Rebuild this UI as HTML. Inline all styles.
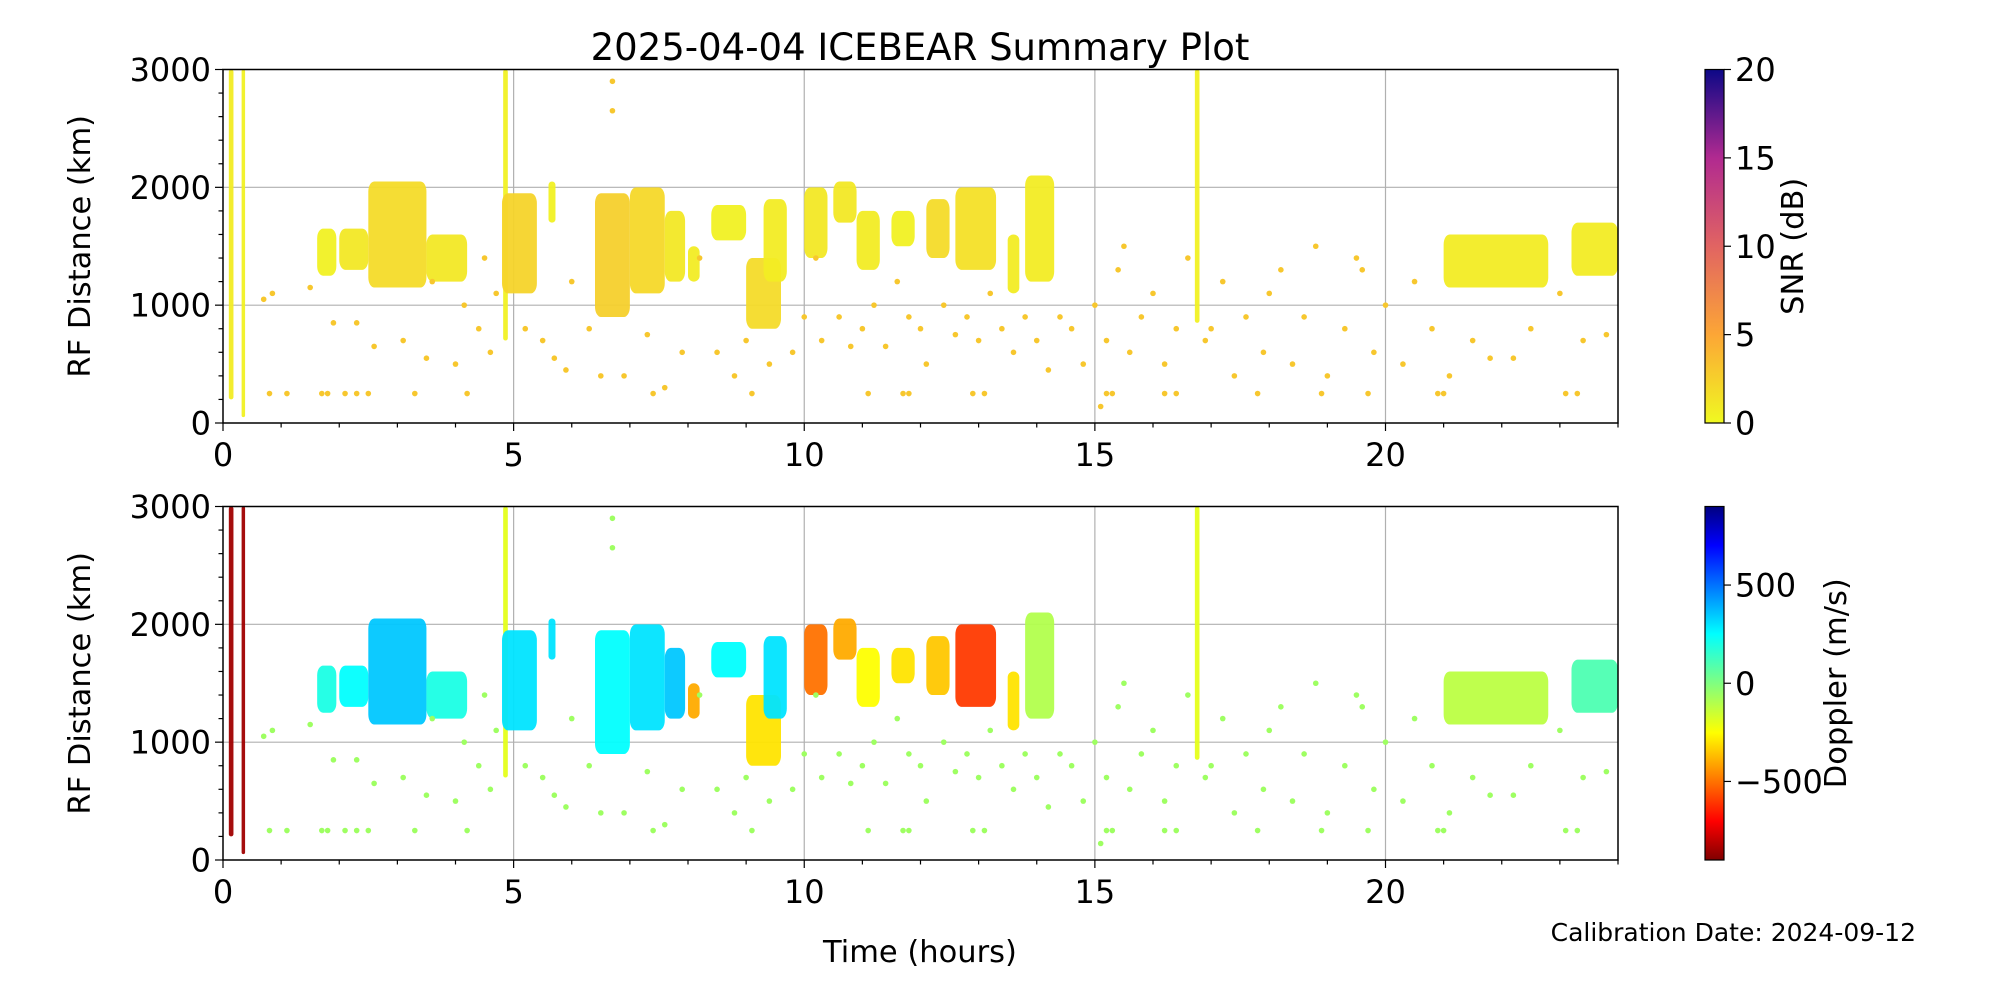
<!DOCTYPE html>
<html><head><meta charset="utf-8">
<style>
html,body{margin:0;padding:0;background:#fff;}
svg{display:block;font-family:"DejaVu Sans","Liberation Sans",sans-serif;}
</style></head>
<body>
<svg id="chart" width="2000" height="1000" viewBox="0 0 2000 1000" xmlns="http://www.w3.org/2000/svg">
<defs>
<linearGradient id="snrGrad" x1="0" y1="1" x2="0" y2="0">
<stop offset="0" stop-color="#f0f921"/><stop offset="0.25" stop-color="#fca636"/><stop offset="0.5" stop-color="#e16462"/><stop offset="0.75" stop-color="#b12a90"/><stop offset="1" stop-color="#0d0887"/>
</linearGradient>
<linearGradient id="dopGrad" x1="0" y1="1" x2="0" y2="0">
<stop offset="0" stop-color="#800000"/><stop offset="0.11" stop-color="#ff0000"/><stop offset="0.36" stop-color="#ffff00"/><stop offset="0.5" stop-color="#80ff80"/><stop offset="0.64" stop-color="#00ffff"/><stop offset="0.89" stop-color="#0000ff"/><stop offset="1" stop-color="#000080"/>
</linearGradient>
</defs>
<text x="920" y="60" font-size="37" text-anchor="middle">2025-04-04 ICEBEAR Summary Plot</text>
<g id="p1"></g>
<g id="p2"></g>
<g id="cb"></g>
<text x="920" y="962" font-size="30.5" text-anchor="middle">Time (hours)</text>
<text x="1916" y="941" font-size="25" text-anchor="end">Calibration Date: 2024-09-12</text>
</svg>
<script>
// clusters: start hour, end hour, min range, max range, snr, doppler
const clusterT0 = [0.1,0.32,4.82,16.72,1.62,2.0,2.5,3.5,4.8,5.6,6.4,7.0,7.6,8.0,8.4,9.0,9.3,10.0,10.5,10.9,11.5,12.1,12.6,13.5,13.8,21.0,23.2];
const clusterT1 = [0.18,0.38,4.9,16.8,1.95,2.5,3.5,4.2,5.4,5.72,7.0,7.6,7.95,8.2,9.0,9.6,9.7,10.4,10.9,11.3,11.9,12.5,13.3,13.7,14.3,22.8,24.0];
const clusterR0 = [200,50,700,850,1250,1300,1150,1200,1100,1700,900,1100,1200,1200,1550,800,1200,1400,1700,1300,1500,1400,1300,1100,1200,1150,1250];
const clusterR1 = [3000,3000,3000,3000,1650,1650,2050,1600,1950,2050,1950,2000,1800,1500,1850,1400,1900,2000,2050,1800,1800,1900,2000,1600,2100,1600,1700];
const clusterSnr = [0.8,0.5,0.5,0.5,0.5,1,1.8,1,2.2,0.5,2.5,2,1,0.8,0.5,1.8,0.8,1,1,0.8,0.5,1.8,1.5,0.8,0.8,0.8,0.8];
const clusterDop = [-850,-850,-200,-200,200,250,350,200,300,300,250,300,350,-400,250,-300,300,-500,-400,-250,-300,-350,-600,-300,-100,-120,100];
// scattered echoes: hour, range
const ptT = [0.7,0.85,1.5,1.9,2.3,2.6,3.1,3.5,3.6,4.0,4.15,4.4,4.5,4.6,4.7,5.2,5.5,5.7,5.9,6.0,6.3,6.5,6.9,7.3,7.6,7.9,8.2,8.5,8.8,9.0,9.4,9.8,10.0,10.2,10.3,10.6,10.8,11.0,11.2,11.4,11.6,11.8,12.0,12.1,12.4,12.6,12.8,13.0,13.2,13.4,13.6,13.8,14.0,14.2,14.4,14.6,14.8,15.0,15.2,15.4,15.6,15.8,16.0,16.2,16.4,16.6,16.9,17.2,17.4,17.6,17.9,18.2,18.4,18.6,18.8,19.0,19.3,19.6,19.8,20.0,20.3,20.5,20.8,21.1,21.5,21.8,22.2,22.5,23.0,23.4,23.8,15.5,17.0,18.0,19.5,0.8,1.1,1.7,1.8,2.1,2.3,2.5,3.3,4.2,7.4,9.1,11.1,11.7,11.8,12.9,13.1,15.2,15.3,16.2,16.4,17.8,18.9,19.7,20.9,21.0,23.1,23.3,6.7,6.7,15.1];
const ptR = [1050,1100,1150,850,850,650,700,550,1200,500,1000,800,1400,600,1100,800,700,550,450,1200,800,400,400,750,300,600,1400,600,400,700,500,600,900,1400,700,900,650,800,1000,650,1200,900,800,500,1000,750,900,700,1100,800,600,900,700,450,900,800,500,1000,700,1300,600,900,1100,500,800,1400,700,1200,400,900,600,1300,500,900,1500,400,800,1300,600,1000,500,1200,800,400,700,550,550,800,1100,700,750,1500,800,1100,1400,250,250,250,250,250,250,250,250,250,250,250,250,250,250,250,250,250,250,250,250,250,250,250,250,250,250,250,2900,2650,140];
const ptSnr = 3;
const ptDop = -60;
const yTicks = [0,1000,2000,3000];
const xTicks = [0,5,10,15,20];
const snrTicks = [0,5,10,15,20];
const dopTicks = [-500,0,500];

const NS='http://www.w3.org/2000/svg';
const L=223,R=1618;
const FS=32;
const panels=[{g:'p1',top:69.5,bot:423,kind:'snr'},{g:'p2',top:506.5,bot:860,kind:'dop'}];
function mk(tag,attrs,parent){const e=document.createElementNS(NS,tag);for(const k in attrs)e.setAttribute(k,attrs[k]);parent.appendChild(e);return e;}
function xs(t){return L+t/24*(R-L);}
function lerpC(stops,v){
  v=Math.max(0,Math.min(1,v));
  for(let i=1;i<stops.length;i++){if(v<=stops[i][0]){const a=stops[i-1],b=stops[i];const f=(v-a[0])/(b[0]-a[0]);
    const c=[0,1,2].map(j=>Math.round(a[1][j]+(b[1][j]-a[1][j])*f));return 'rgb('+c.join(',')+')';}}
  const s=stops[stops.length-1][1];return 'rgb('+s.join(',')+')';}
const plasmaR=[[0,[240,249,33]],[0.25,[252,166,54]],[0.5,[225,100,98]],[0.75,[177,42,144]],[1,[13,8,135]]];
const jetR=[[0,[128,0,0]],[0.11,[255,0,0]],[0.36,[255,255,0]],[0.5,[128,255,128]],[0.64,[0,255,255]],[0.89,[0,0,255]],[1,[0,0,128]]];
function colSnr(v){return lerpC(plasmaR,v/20);}
function colDop(v){return lerpC(jetR,(v+900)/1800);}

panels.forEach(p=>{
  const g=document.getElementById(p.g);
  const ys=r=>p.bot-r/3000*(p.bot-p.top);
  yTicks.forEach(v=>{if(v>0&&v<3000){const l=mk('line',{x1:L,x2:R,y1:ys(v),y2:ys(v),stroke:'#b0b0b0','stroke-width':1.2},g);
    }});
  xTicks.forEach(v=>{if(v>0){const l=mk('line',{x1:xs(v),x2:xs(v),y1:p.top,y2:p.bot,stroke:'#b0b0b0','stroke-width':1.2},g);
    }});
  for(let i=0;i<clusterT0.length;i++){
    const x0=xs(clusterT0[i]),x1=xs(clusterT1[i]),y0=ys(clusterR1[i]),y1=ys(clusterR0[i]);
    const c=p.kind==='snr'?colSnr(clusterSnr[i]):colDop(clusterDop[i]);
    const w=x1-x0;
    const r=mk('rect',{x:x0,y:y0,width:w,height:y1-y0,rx:Math.min(w/2,6),ry:Math.min(w/2,10),fill:c,opacity:0.95},g);
    
  }
  for(let i=0;i<ptT.length;i++){
    const c=p.kind==='snr'?colSnr(ptSnr):colDop(ptDop);
    const d=mk('circle',{cx:xs(ptT[i]),cy:ys(ptR[i]),r:2.8,fill:c},g);
    
  }
  const f=mk('rect',{x:L,y:p.top,width:R-L,height:p.bot-p.top,fill:'none',stroke:'#000','stroke-width':1.5},g);
  
  for(let v=0;v<=3000;v+=200){const major=v%1000===0;
    const t=mk('line',{x1:L,x2:L-(major?8:4.5),y1:ys(v),y2:ys(v),stroke:'#000','stroke-width':1.2},g);
    }
  yTicks.forEach(v=>{const t=mk('text',{x:L-12,y:ys(v)+11.5,'font-size':FS,'text-anchor':'end'},g);t.textContent=v;
    });
  for(let h=0;h<=24;h++){const major=h%5===0;
    const t=mk('line',{x1:xs(h),x2:xs(h),y1:p.bot,y2:p.bot+(major?8:4.5),stroke:'#000','stroke-width':1.2},g);
    }
  xTicks.forEach(v=>{const t=mk('text',{x:xs(v),y:p.bot+43,'font-size':FS,'text-anchor':'middle'},g);t.textContent=v;
    });
  const yl=mk('text',{x:0,y:0,'font-size':30.5,'text-anchor':'middle',transform:'translate(90,'+((p.top+p.bot)/2)+') rotate(-90)'},g);
  yl.textContent='RF Distance (km)';
});

const cb=document.getElementById('cb');
const CX=1705,CW=19;
[{top:69.5,bot:423,grad:'snrGrad',ticks:snrTicks,min:0,max:20,label:'SNR (dB)',lx:1803,name:'snr'},
 {top:506.5,bot:860,grad:'dopGrad',ticks:dopTicks,min:-900,max:900,label:'Doppler (m/s)',lx:1846,name:'doppler'}].forEach(c=>{
  const r=mk('rect',{x:CX,y:c.top,width:CW,height:c.bot-c.top,fill:'url(#'+c.grad+')',stroke:'#000','stroke-width':1.2},cb);
  
  c.ticks.forEach(v=>{const y=c.bot-(v-c.min)/(c.max-c.min)*(c.bot-c.top);
    const t=mk('line',{x1:CX+CW,x2:CX+CW+7,y1:y,y2:y,stroke:'#000','stroke-width':1.2},cb);
    
    const tx=mk('text',{x:CX+CW+11,y:y+11.5,'font-size':FS},cb);tx.textContent=v<0?'\u2212'+(-v):String(v);
    });
  const lb=mk('text',{x:0,y:0,'font-size':30.5,'text-anchor':'middle',transform:'translate('+c.lx+','+((c.top+c.bot)/2)+') rotate(-90)'},cb);
  lb.textContent=c.label;
});
</script>
</body></html>
